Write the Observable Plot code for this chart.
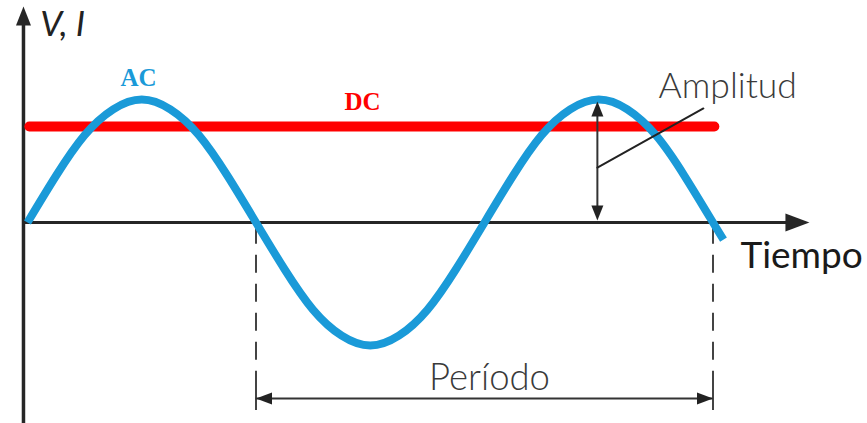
<!DOCTYPE html>
<html>
<head>
<meta charset="utf-8">
<script src="https://cdn.jsdelivr.net/npm/d3@7"></script>
<script src="https://cdn.jsdelivr.net/npm/@observablehq/plot@0.6"></script>
<style>
  html, body { margin: 0; padding: 0; background: #fff; }
  svg { display: block; }
</style>
</head>
<body>
<div id="chart"></div>
<script>
// ---- data (time in periods, value in amplitudes) ----
const waveT = [0, 0.0625, 0.125, 0.1875, 0.25, 0.3125, 0.375, 0.4375, 0.5, 0.5625, 0.625, 0.6875, 0.75, 0.8125, 0.875, 0.9375, 1, 1.0625, 1.125, 1.1875, 1.25, 1.3125, 1.375, 1.4375, 1.5, 1.523];
const waveV = [0, 0.38, 0.71, 0.92, 1, 0.92, 0.71, 0.38, 0, -0.38, -0.71, -0.92, -1, -0.92, -0.71, -0.38, 0, 0.38, 0.71, 0.92, 1, 0.92, 0.71, 0.38, 0, -0.14];
const dcT = [0.004, 1.503];
const dcV = [0.78, 0.78];
const periodT = [0.5, 1.5];
const amplitudeT = 1.247;

const labelText = ["V, I", "AC", "DC", "Amplitud", "Tiempo", "Período"];
const labelT = [0.028, 0.243, 0.733, 1.381, 1.560, 1.011];
const labelV = [1.52, 1.106, 0.911, 1.016, -0.366, -1.358];

// ---- helpers ----
const wave = waveT.map((t, i) => ({t, v: waveV[i]}));
const dc = dcT.map((t, i) => ({t, v: dcV[i]}));
const labels = labelText.map((text, i) => ({text, t: labelT[i], v: labelV[i]}));
const pick = (...idx) => idx.map(i => labels[i]);

function head(len, wid) {
  return {draw(ctx) { ctx.moveTo(0, 0); ctx.lineTo(wid / 2, len); ctx.lineTo(-wid / 2, len); ctx.closePath(); }};
}

const ink = "#262626";
const x0 = -0.0088;          // axis origin
const yBottom = -1.64, yTop = 1.756, xTip = 1.711;
const periodY = -1.431;

const chart = Plot.plot({
  width: 867,
  height: 423,
  margin: 0,
  x: {type: "linear", domain: [0, 1], range: [27, 484], axis: null},
  y: {type: "linear", domain: [0, 1], range: [222, 99], axis: null},
  marks: [
    // axes
    Plot.ruleX([x0], {y1: yBottom, y2: yTop - 0.12, stroke: ink, strokeWidth: 3.5}),
    Plot.ruleY([0], {x1: x0, x2: xTip - 0.04, stroke: ink, strokeWidth: 3}),
    Plot.dot([{t: x0, v: yTop}], {x: "t", y: "v", symbol: head(19, 15), fill: ink, stroke: "none", rotate: 0}),
    Plot.dot([{t: xTip, v: 0}], {x: "t", y: "v", symbol: head(24, 18), fill: ink, stroke: "none", rotate: 90}),
    // period guides
    Plot.ruleX(periodT, {y1: -0.03, y2: -1.38, stroke: "#444", strokeWidth: 2, strokeDasharray: "18,11"}),
    Plot.ruleX(periodT, {y1: -1.333, y2: -1.528, stroke: "#444", strokeWidth: 2}),
    Plot.ruleY([periodY], {x1: periodT[0], x2: periodT[1], stroke: "#333", strokeWidth: 2}),
    Plot.dot([{t: periodT[0], v: periodY, r: 270}, {t: periodT[1], v: periodY, r: 90}], {x: "t", y: "v", rotate: "r", symbol: head(16, 12), fill: "#222", stroke: "none"}),
    // DC
    Plot.line(dc, {x: "t", y: "v", stroke: "#ff0000", strokeWidth: 10, strokeLinecap: "round"}),
    // AC
    Plot.line(wave, {x: "t", y: "v", curve: "natural", stroke: "#1a9ad8", strokeWidth: 8, strokeLinecap: "butt"}),
    // amplitude
    Plot.ruleX([amplitudeT], {y1: 0.05, y2: 0.95, stroke: "#333", strokeWidth: 2}),
    Plot.dot([{t: amplitudeT, v: 0.984, r: 0}, {t: amplitudeT, v: 0.016, r: 180}], {x: "t", y: "v", rotate: "r", symbol: head(15, 12), fill: "#222", stroke: "none"}),
    Plot.line([{t: amplitudeT, v: 0.447}, {t: 1.479, v: 0.927}], {x: "t", y: "v", stroke: "#222", strokeWidth: 2}),
    // labels
    Plot.text(pick(0), {x: "t", y: "v", text: "text", textAnchor: "start", lineAnchor: "bottom", fontSize: 35, fontStyle: "italic", fontFamily: "Lato, 'Open Sans', sans-serif", fill: "#222"}),
    Plot.text(pick(1), {x: "t", y: "v", text: "text", textAnchor: "middle", lineAnchor: "bottom", fontSize: 25, fontWeight: "bold", fontFamily: "'Liberation Serif', 'DejaVu Serif', serif", fill: "#1a9ad8"}),
    Plot.text(pick(2), {x: "t", y: "v", text: "text", textAnchor: "middle", lineAnchor: "bottom", fontSize: 25, fontWeight: "bold", fontFamily: "'Liberation Serif', 'DejaVu Serif', serif", fill: "#ff0000"}),
    Plot.text(pick(3), {x: "t", y: "v", text: "text", textAnchor: "start", lineAnchor: "bottom", fontSize: 35.5, fontWeight: 300, fontFamily: "Lato, 'Open Sans', sans-serif", fill: "#3a3a3a"}),
    Plot.text(pick(4), {x: "t", y: "v", text: "text", textAnchor: "start", lineAnchor: "bottom", fontSize: 37, fontWeight: 400, fontFamily: "Lato, 'Open Sans', sans-serif", fill: "#1a1a1a"}),
    Plot.text(pick(5), {x: "t", y: "v", text: "text", textAnchor: "middle", lineAnchor: "bottom", fontSize: 36.5, fontWeight: 300, fontFamily: "Lato, 'Open Sans', sans-serif", fill: "#3a3a3a"})
  ]
});
document.getElementById("chart").appendChild(chart);
</script>
</body>
</html>
